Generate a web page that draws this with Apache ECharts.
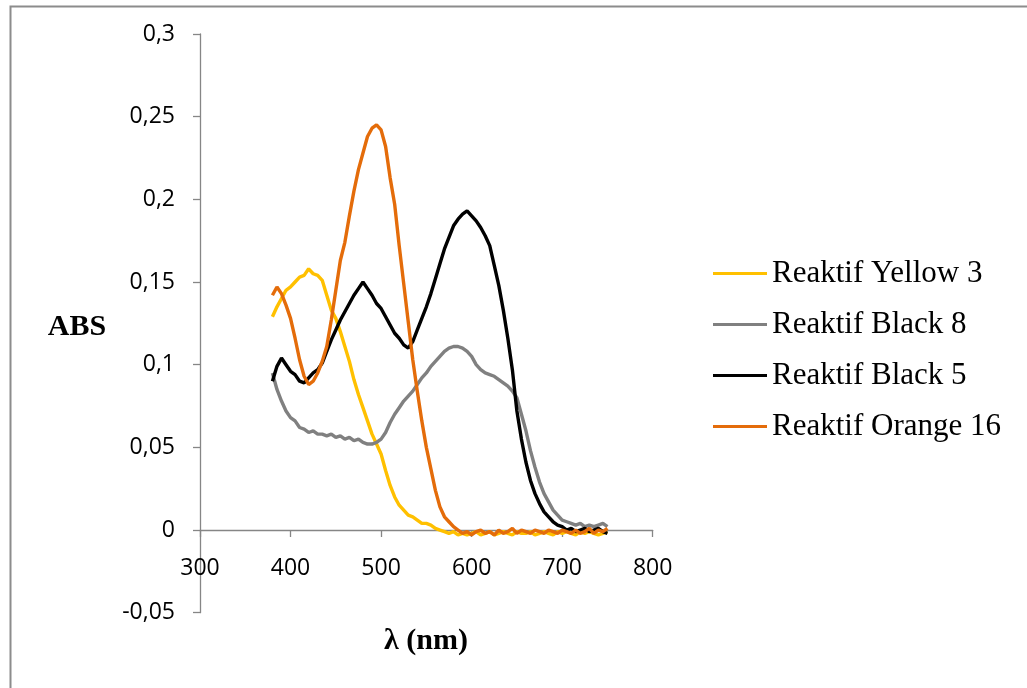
<!DOCTYPE html>
<html>
<head>
<meta charset="utf-8">
<script src="https://cdn.jsdelivr.net/npm/echarts@6/dist/echarts.min.js"></script>
<style>
  html, body { margin: 0; padding: 0; background: #fff; }
  #chart { width: 1027px; height: 688px; }
</style>
</head>
<body>
<div id="chart"></div>
<script>
// Wavelengths (nm)
const wavelengths = [
  380,385,390,395,400,405,410,415,420,425,
  430,435,440,445,450,455,460,465,470,475,
  480,485,490,495,500,505,510,515,520,525,
  530,535,540,545,550,555,560,565,570,575,
  580,585,590,595,600,605,610,615,620,625,
  630,635,640,645,650,655,660,665,670,675,
  680,685,690,695,700,705,710,715,720,725,
  730,735,740,745,750
];

const seriesNames = ["Reaktif Yellow 3", "Reaktif Black 8", "Reaktif Black 5", "Reaktif Orange 16"];

const yellow3 = [
  0.129,0.135,0.140,0.145,0.147,0.150,0.153,0.154,0.158,0.155,
  0.154,0.151,0.142,0.133,0.128,0.120,0.111,0.102,0.091,0.082,
  0.074,0.066,0.058,0.052,0.046,0.036,0.027,0.020,0.015,0.012,
  0.009,0.008,0.006,0.004,0.004,0.003,0.001,0.000,-0.001,-0.002,
  -0.001,-0.003,-0.002,-0.003,-0.002,-0.001,-0.003,-0.002,-0.001,-0.003,
  -0.002,-0.001,-0.002,-0.003,-0.001,-0.002,-0.002,-0.001,-0.003,-0.002,
  -0.001,-0.002,-0.003,-0.001,-0.002,-0.001,-0.002,-0.003,-0.001,-0.002,
  -0.001,-0.002,-0.003,-0.002,-0.001
];

const black8 = [
  0.095,0.085,0.078,0.072,0.068,0.066,0.062,0.061,0.059,0.060,
  0.058,0.058,0.057,0.058,0.056,0.057,0.055,0.056,0.054,0.055,
  0.053,0.052,0.052,0.053,0.055,0.059,0.065,0.070,0.074,0.078,
  0.081,0.084,0.088,0.092,0.095,0.099,0.102,0.105,0.108,0.110,
  0.111,0.111,0.110,0.108,0.105,0.100,0.097,0.095,0.094,0.093,
  0.091,0.089,0.087,0.084,0.080,0.070,0.060,0.048,0.038,0.029,
  0.022,0.017,0.012,0.009,0.006,0.005,0.004,0.003,0.004,0.002,
  0.003,0.002,0.003,0.004,0.002
];

const black5 = [
  0.090,0.099,0.104,0.100,0.096,0.094,0.090,0.089,0.092,0.095,
  0.097,0.101,0.108,0.115,0.121,0.127,0.132,0.137,0.142,0.146,
  0.150,0.146,0.142,0.137,0.134,0.129,0.124,0.119,0.116,0.112,
  0.110,0.114,0.121,0.128,0.135,0.143,0.152,0.161,0.170,0.177,
  0.184,0.188,0.191,0.193,0.190,0.187,0.183,0.178,0.172,0.160,
  0.148,0.133,0.116,0.097,0.072,0.055,0.041,0.030,0.022,0.016,
  0.011,0.008,0.005,0.003,0.002,0.000,0.001,-0.001,0.000,0.001,
  -0.001,0.000,0.001,-0.001,-0.002
];

const orange16 = [
  0.142,0.147,0.143,0.136,0.128,0.116,0.103,0.093,0.088,0.090,
  0.095,0.102,0.111,0.127,0.145,0.163,0.174,0.190,0.205,0.218,
  0.228,0.238,0.243,0.245,0.242,0.232,0.213,0.197,0.172,0.149,
  0.126,0.103,0.084,0.066,0.050,0.037,0.024,0.014,0.008,0.005,
  0.002,0.000,-0.002,-0.001,-0.003,-0.001,0.000,-0.002,-0.001,-0.003,
  0.000,-0.002,-0.001,0.001,-0.002,0.000,-0.001,-0.002,0.000,-0.001,
  -0.002,0.000,-0.001,-0.002,0.000,-0.001,-0.002,0.000,-0.002,-0.001,
  0.001,-0.002,0.000,-0.001,0.001
];

const seriesData = [yellow3, black8, black5, orange16];
const seriesColors = ["#FFC000", "#808080", "#000000", "#E46C0A"];

const xTickLabels = ["300", "400", "500", "600", "700", "800"];
const yTickLabels = ["-0,05", "0", "0,05", "0,1", "0,15", "0,2", "0,25", "0,3"];

const yMin = -0.05, yMax = 0.3;
const gridTop = 34, gridBottomPx = 612.7;
// distance (px) between the bottom of the grid and the y = 0 line
const zeroOffset = (gridBottomPx - gridTop) * (0 - yMin) / (yMax - yMin);

const chart = echarts.init(document.getElementById('chart'), null, { renderer: 'canvas' });

const axisLineStyle = { color: '#868686', width: 1.3 };

const option = {
  animation: false,
  backgroundColor: '#ffffff',
  grid: { left: 200, top: gridTop, right: 374.3, bottom: 688 - gridBottomPx, containLabel: false },
  xAxis: {
    type: 'value',
    min: 300, max: 800, interval: 100,
    position: 'bottom',
    offset: -zeroOffset,
    axisLine: { onZero: false, lineStyle: axisLineStyle },
    axisTick: { show: true, inside: false, length: 7, lineStyle: axisLineStyle },
    axisLabel: {
      margin: 27,
      color: '#000',
      fontFamily: 'Open Sans',
      fontSize: 23,
      formatter: function (v) {
        const i = Math.round((v - 300) / 100);
        return xTickLabels[i] !== undefined ? xTickLabels[i] : String(v);
      }
    },
    splitLine: { show: false }
  },
  yAxis: {
    type: 'value',
    min: yMin, max: yMax, interval: 0.05,
    axisLine: { show: true, onZero: false, lineStyle: axisLineStyle },
    axisTick: { show: true, inside: false, length: 7, lineStyle: axisLineStyle },
    axisLabel: {
      margin: 25,
      color: '#000',
      fontFamily: 'Open Sans',
      fontSize: 23,
      formatter: function (v) {
        const i = Math.round((v - yMin) / 0.05);
        return yTickLabels[i] !== undefined ? yTickLabels[i] : String(v);
      }
    },
    splitLine: { show: false }
  },
  legend: {
    orient: 'vertical',
    left: 713,
    top: 258,
    padding: 0,
    icon: 'rect',
    itemWidth: 54,
    itemHeight: 3,
    itemGap: 20,
    data: seriesNames,
    textStyle: {
      fontFamily: 'Liberation Serif',
      fontSize: 31,
      lineHeight: 31,
      color: '#000'
    }
  },
  graphic: [
    {
      type: 'rect',
      left: 8, top: 4,
      shape: { width: 1200, height: 900 },
      style: { fill: 'none', stroke: '#8c8c8c', lineWidth: 2 },
      silent: true, z: -1
    },
    {
      type: 'text',
      x: 77, y: 327,
      style: {
        text: 'ABS',
        font: 'bold 30px "Liberation Serif"',
        fill: '#000',
        textAlign: 'center',
        textVerticalAlign: 'middle'
      }
    },
    {
      type: 'text',
      x: 426, y: 641,
      style: {
        text: 'λ (nm)',
        font: 'bold 30px "Liberation Serif"',
        fill: '#000',
        textAlign: 'center',
        textVerticalAlign: 'middle'
      }
    }
  ],
  series: seriesNames.map(function (name, k) {
    return {
      name: name,
      type: 'line',
      data: wavelengths.map(function (w, i) { return [w, seriesData[k][i]]; }),
      showSymbol: false,
      symbol: 'none',
      smooth: false,
      color: seriesColors[k],
      lineStyle: { color: seriesColors[k], width: 3.4 },
      itemStyle: { color: seriesColors[k] },
      z: 2 + k
    };
  })
};

chart.setOption(option);
</script>
</body>
</html>
